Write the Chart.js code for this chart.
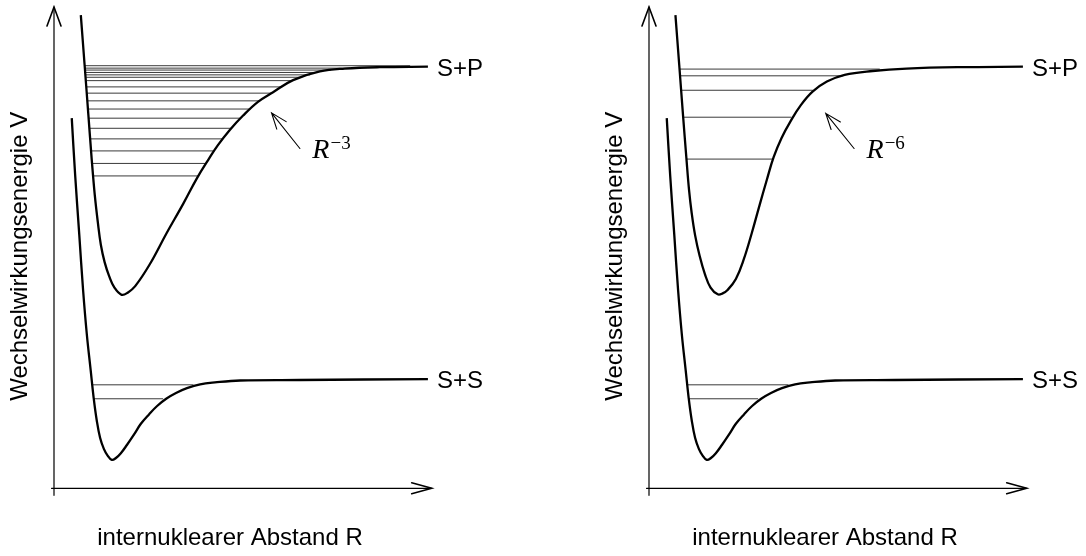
<!DOCTYPE html>
<html>
<head>
<meta charset="utf-8">
<script src="https://cdn.jsdelivr.net/npm/chart.js@4.4.1/dist/chart.umd.min.js"></script>
<style>
  html, body { margin: 0; padding: 0; background: #fff; }
  #wrap { position: relative; width: 1086px; height: 556px; }
  .panel { position: absolute; top: 0; width: 491px; height: 556px; }
</style>
</head>
<body>
<div id="wrap">
  <div class="panel" style="left:0"><canvas id="left"></canvas></div>
  <div class="panel" style="left:595px"><canvas id="right"></canvas></div>
</div>
<script>
// S+P potential with R^-3 tail (left panel)
var spR3_R = [0.71, 0.81, 0.91, 1.00, 1.08, 1.16, 1.24, 1.34, 1.46, 1.60, 1.79, 1.96, 2.15, 2.54, 2.98, 3.42, 3.79, 4.08, 4.34, 4.66, 5.00, 5.40, 5.80, 6.33, 7.04, 7.70, 8.63, 9.90];
var spR3_V = [9.83, 8.80, 7.76, 6.82, 6.09, 5.53, 5.06, 4.70, 4.41, 4.17, 4.02, 4.07, 4.20, 4.66, 5.30, 5.91, 6.45, 6.82, 7.13, 7.45, 7.74, 8.03, 8.23, 8.48, 8.66, 8.72, 8.75, 8.76];

// S+P potential with R^-6 tail (right panel)
var spR6_R = [0.70, 0.80, 0.90, 0.99, 1.06, 1.13, 1.22, 1.34, 1.48, 1.63, 1.82, 1.95, 2.08, 2.30, 2.51, 2.72, 2.93, 3.12, 3.30, 3.51, 3.75, 4.02, 4.33, 4.71, 5.18, 5.92, 6.82, 8.23, 9.90];
var spR6_V = [9.83, 8.80, 7.76, 6.86, 6.20, 5.72, 5.26, 4.83, 4.45, 4.17, 4.03, 4.05, 4.12, 4.35, 4.76, 5.30, 5.89, 6.41, 6.88, 7.28, 7.63, 7.96, 8.24, 8.45, 8.59, 8.67, 8.72, 8.75, 8.76];

// S+S ground state potential (same in both panels)
var ss_R = [0.47, 0.56, 0.67, 0.77, 0.87, 0.97, 1.05, 1.13, 1.22, 1.32, 1.42, 1.53, 1.64, 1.77, 1.93, 2.12, 2.30, 2.52, 2.73, 2.97, 3.23, 3.52, 3.87, 4.26, 4.93, 6.51, 9.90];
var ss_V = [7.69, 6.51, 5.26, 4.12, 3.19, 2.46, 1.88, 1.42, 1.05, 0.82, 0.68, 0.59, 0.63, 0.73, 0.90, 1.12, 1.34, 1.54, 1.71, 1.86, 1.98, 2.08, 2.16, 2.20, 2.24, 2.25, 2.27];

// bound levels: [energy, inner turning point, outer turning point]
var levelsR3 = [[8.78, 0.82, 9.43], [8.73, 0.83, 7.84], [8.69, 0.83, 7.33], [8.64, 0.84, 6.99], [8.59, 0.84, 6.78], [8.54, 0.85, 6.57], [8.47, 0.86, 6.30], [8.34, 0.87, 6.04], [8.21, 0.88, 5.75], [8.05, 0.90, 5.45], [7.88, 0.91, 5.20], [7.69, 0.93, 4.95], [7.48, 0.95, 4.70], [7.26, 0.97, 4.47], [7.01, 0.99, 4.24], [6.75, 1.01, 4.02], [6.49, 1.03, 3.81]];
var levelsR6 = [[8.71, 0.80, 6.11], [8.57, 0.82, 5.14], [8.27, 0.86, 4.34], [7.71, 0.90, 3.77], [6.84, 0.99, 3.28]];
var levelsSS = [[2.15, 1.01, 3.69], [1.86, 1.06, 2.89]];

var curveLabels = ['S+P', 'S+S'];
var xTitle = 'internuklearer Abstand R';
var yTitle = 'Wechselwirkungsenergie V';

// arrow to the long range tail: tip, tail, label position (R, V)
var noteR3 = { tip: [5.76, 7.80], tail: [6.51, 7.06], at: [6.84, 6.86], exp: '\u22123' };
var noteR6 = { tip: [4.68, 7.79], tail: [5.43, 7.06], at: [5.76, 6.86], exp: '\u22126' };

function pts(rs, vs) {
    return rs.map(function (r, i) { return { x: r, y: vs[i] }; });
}

function buildDatasets(upR, upV, levels) {
    var sets = [
        { data: pts(upR, upV), borderColor: '#000', borderWidth: 2.3, tension: 0.4 },
        { data: pts(ss_R, ss_V), borderColor: '#000', borderWidth: 2.3, tension: 0.4 }
    ];
    levels.concat(levelsSS).forEach(function (l) {
        sets.push({ data: [{ x: l[1], y: l[0] }, { x: l[2], y: l[0] }], borderColor: '#3a3a3a', borderWidth: 1 });
    });
    sets.forEach(function (s) {
        s.showLine = true;
        s.pointRadius = 0;
        s.clip = false;
    });
    return sets;
}

var sketch = {
    id: 'sketch',
    afterDraw: function (chart, args, opts) {
        var ctx = chart.ctx;
        var xs = chart.scales.x, ys = chart.scales.y;
        var x0 = xs.getPixelForValue(0), y0 = ys.getPixelForValue(0);
        var xEnd = xs.getPixelForValue(xs.max), yEnd = ys.getPixelForValue(ys.max);
        ctx.save();
        ctx.strokeStyle = '#000';
        ctx.fillStyle = '#000';
        ctx.lineCap = 'round';
        ctx.lineWidth = 1.2;
        ctx.beginPath();
        ctx.moveTo(x0, y0 + 7); ctx.lineTo(x0, yEnd);
        ctx.moveTo(x0 - 2.5, y0); ctx.lineTo(xEnd, y0);
        ctx.stroke();
        // open arrow heads
        ctx.lineWidth = 1.6;
        ctx.beginPath();
        ctx.moveTo(x0 - 7, yEnd + 19); ctx.lineTo(x0, yEnd); ctx.lineTo(x0 + 7, yEnd + 19);
        ctx.moveTo(xEnd - 20, y0 - 5.5); ctx.lineTo(xEnd, y0); ctx.lineTo(xEnd - 20, y0 + 5.5);
        ctx.stroke();

        // axis titles
        ctx.font = '24px "Liberation Sans", Arial, sans-serif';
        ctx.textAlign = 'center';
        ctx.textBaseline = 'alphabetic';
        ctx.fillText(xTitle, x0 + 176, y0 + 57);
        ctx.save();
        ctx.translate(x0 - 27, y0 - 232);
        ctx.rotate(-Math.PI / 2);
        ctx.fillText(yTitle, 0, 0);
        ctx.restore();

        // asymptote labels at the curve ends
        ctx.textAlign = 'left';
        ctx.textBaseline = 'middle';
        [0, 1].forEach(function (i) {
            var d = chart.data.datasets[i].data;
            var last = d[d.length - 1];
            ctx.fillText(curveLabels[i], xs.getPixelForValue(last.x) + 9, ys.getPixelForValue(last.y) + 2.5);
        });

        // R^-n note with arrow
        var n = opts.note;
        var tx = xs.getPixelForValue(n.tip[0]), ty = ys.getPixelForValue(n.tip[1]);
        var sx = xs.getPixelForValue(n.tail[0]), sy = ys.getPixelForValue(n.tail[1]);
        var ang = Math.atan2(sy - ty, sx - tx);
        ctx.lineWidth = 1.1;
        ctx.beginPath();
        ctx.moveTo(sx, sy); ctx.lineTo(tx, ty);
        ctx.moveTo(tx + 17 * Math.cos(ang + 0.36), ty + 17 * Math.sin(ang + 0.36));
        ctx.lineTo(tx, ty);
        ctx.lineTo(tx + 17 * Math.cos(ang - 0.36), ty + 17 * Math.sin(ang - 0.36));
        ctx.stroke();
        var lx = xs.getPixelForValue(n.at[0]), ly = ys.getPixelForValue(n.at[1]);
        ctx.textBaseline = 'alphabetic';
        ctx.font = 'italic 28px "Liberation Serif", "Times New Roman", serif';
        ctx.fillText('R', lx, ly);
        var w = ctx.measureText('R').width;
        ctx.font = '19px "Liberation Serif", "Times New Roman", serif';
        ctx.fillText(n.exp, lx + w + 1, ly - 9);
        ctx.restore();
    }
};

function makeChart(id, upR, upV, levels, note) {
    return new Chart(document.getElementById(id), {
        type: 'scatter',
        data: { datasets: buildDatasets(upR, upV, levels) },
        options: {
            responsive: true,
            maintainAspectRatio: false,
            animation: false,
            layout: { padding: { left: 54, right: 59.3, top: 7, bottom: 67.7 } },
            scales: {
                x: { type: 'linear', min: 0, max: 10, display: false },
                y: { type: 'linear', min: 0, max: 10, display: false }
            },
            plugins: {
                legend: { display: false },
                tooltip: { enabled: false },
                sketch: { note: note }
            }
        },
        plugins: [sketch]
    });
}

makeChart('left', spR3_R, spR3_V, levelsR3, noteR3);
makeChart('right', spR6_R, spR6_V, levelsR6, noteR6);
</script>
</body>
</html>
